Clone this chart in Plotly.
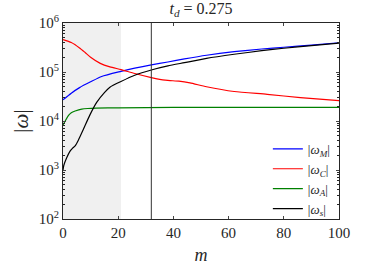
import plotly.graph_objects as go

m_M = [0, 3, 6, 10, 14, 21, 26, 32, 38, 44, 52, 62, 72, 80, 90, 100]
w_M = [2.7e4, 3.7e4, 4.8e4, 6.3e4, 8.1e4, 1.03e5, 1.2e5, 1.4e5, 1.6e5, 1.85e5, 2.2e5, 2.6e5, 2.95e5, 3.2e5, 3.55e5, 3.95e5]

m_C = [0, 3, 6, 8, 10, 13.5, 17, 21, 26, 32, 37, 42, 46, 52, 62, 74, 86, 100]
w_C = [4.6e5, 4.0e5, 3.1e5, 2.5e5, 2.0e5, 1.5e5, 1.27e5, 1.12e5, 9.3e4, 7.7e4, 6.8e4, 6.5e4, 6.0e4, 5.0e4, 4.0e4, 3.5e4, 3.0e4, 2.6e4]

m_A = [0, 1, 2, 3, 4.4, 6.8, 9, 12, 20, 40, 60, 80, 100]
w_A = [8.3e3, 1.05e4, 1.3e4, 1.48e4, 1.6e4, 1.75e4, 1.8e4, 1.83e4, 1.86e4, 1.9e4, 1.9e4, 1.9e4, 1.9e4]

m_s = [0, 0.3, 1.3, 2.5, 3.5, 4.4, 5.6, 7.4, 9.8, 12.2, 15, 17, 21, 26, 32, 38, 44, 52, 62, 72, 80, 90, 100]
w_s = [1.0e3, 1.25e3, 1.75e3, 2.4e3, 2.8e3, 3.1e3, 4.1e3, 6.8e3, 1.35e4, 2.4e4, 3.8e4, 4.9e4, 6.4e4, 8.6e4, 1.1e5, 1.33e5, 1.55e5, 1.9e5, 2.3e5, 2.72e5, 3.05e5, 3.45e5, 3.9e5]

names = ["|<i>ω<sub>M</sub></i>|", "|<i>ω<sub>C</sub></i>|", "|<i>ω<sub>A</sub></i>|", "|<i>ω<sub>s</sub></i>|"]
colors = ["#0000ff", "#ff0000", "#008000", "#000000"]

shade_end = 21
vline_m = 32

ytickvals = [1e2, 1e3, 1e4, 1e5, 1e6]
yticktext = ["10<sup>2</sup>", "10<sup>3</sup>", "10<sup>4</sup>", "10<sup>5</sup>", "10<sup>6</sup>"]
xtickvals = [0, 20, 40, 60, 80, 100]

FONT = "Liberation Serif, DejaVu Serif, serif"

fig = go.Figure()
for xs, ys, nm, c in zip([m_M, m_C, m_A, m_s], [w_M, w_C, w_A, w_s], names, colors):
    fig.add_trace(go.Scatter(x=xs, y=ys, mode="lines", name=nm,
                             line=dict(color=c, width=1.2, shape="spline", smoothing=0.6)))

fig.add_shape(type="rect", xref="x", yref="paper", x0=0, x1=shade_end, y0=0, y1=1,
              fillcolor="#f0f0f0", line=dict(width=0), layer="below")
fig.add_shape(type="line", xref="x", yref="paper", x0=vline_m, x1=vline_m, y0=0, y1=1,
              line=dict(color="#333333", width=1))

fig.update_layout(
    width=374, height=280,
    margin=dict(l=63, r=35, t=23, b=61),
    paper_bgcolor="white", plot_bgcolor="white",
    font=dict(family=FONT, size=15, color="#262626"),
    title=dict(text="<i>t<sub>d</sub></i> = 0.275", x=0.5, xanchor="center",
               xref="paper", y=0.99, yanchor="top", font=dict(size=16, color="#262626")),
    showlegend=True,
    legend=dict(x=0.985, y=-0.025, xanchor="right", yanchor="bottom",
                bgcolor="rgba(255,255,255,0)", borderwidth=0,
                font=dict(size=13), itemwidth=30, tracegroupgap=0),
    xaxis=dict(range=[0, 100], tickvals=xtickvals, ticks="inside", ticklen=3,
               showline=True, linecolor="#262626", linewidth=1, mirror="allticks",
               showgrid=False, zeroline=False, automargin=False,
               title=dict(text="<i>m</i>", font=dict(size=18), standoff=8)),
    yaxis=dict(type="log", range=[2, 6], tickvals=ytickvals, ticktext=yticktext,
               ticks="inside", ticklen=3,
               minor=dict(ticks="inside", ticklen=2, dtick="D1", tickcolor="#262626", showgrid=False),
               showline=True, linecolor="#262626", linewidth=1, mirror="allticks",
               showgrid=False, zeroline=False, automargin=False,
               title=dict(text="|<i>ω</i>|", font=dict(size=21), standoff=4)),
)

fig.write_html("out.html", config={"displayModeBar": False, "staticPlot": True},
               post_script="document.body.style.margin='0';")
